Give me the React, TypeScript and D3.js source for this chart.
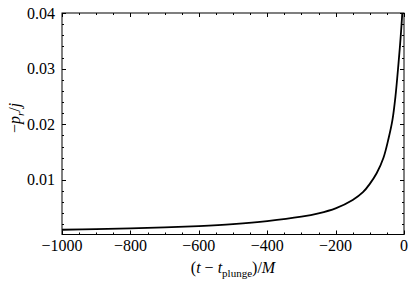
import React, { useEffect, useRef } from "react";
import * as d3 from "d3";

// time relative to plunge, in units of M
const times = [-1000, -900, -800, -700, -600, -500, -400, -300, -250, -200, -150, -120, -100, -80, -60, -45, -34, -25, -16, -10, -5, -2];
// -p_r / j
const values = [0.00105, 0.00116, 0.0013, 0.00148, 0.00172, 0.00207, 0.0026, 0.0034, 0.004, 0.0049, 0.0064, 0.0078, 0.0093, 0.0112, 0.014, 0.0175, 0.0207, 0.025, 0.031, 0.0355, 0.04, 0.044];

const xTicks = [-1000, -800, -600, -400, -200, 0];
const yTicks = [0.01, 0.02, 0.03, 0.04];

const FONT = "Liberation Serif, Times New Roman, DejaVu Serif, serif";

export default function App() {
  const ref = useRef<SVGSVGElement>(null);

  useEffect(() => {
    const width = 416;
    const height = 285;
    const left = 62, right = 404, top = 13, bottom = 234.5;

    const svg = d3.select(ref.current);
    svg.selectAll("*").remove();
    svg.attr("width", width).attr("height", height);

    const x = d3.scaleLinear().domain([-1000, 0]).range([left, right]);
    const y = d3.scaleLinear().domain([0.0002, 0.04]).range([bottom, top]);

    svg.append("clipPath").attr("id", "plotclip")
      .append("rect")
      .attr("x", left).attr("y", top)
      .attr("width", right - left).attr("height", bottom - top);

    const pts = times.map((t, i) => [t, values[i]] as [number, number]);
    const line = d3.line<[number, number]>()
      .x(d => x(d[0]))
      .y(d => y(d[1]))
      .curve(d3.curveCatmullRom.alpha(0.5));

    svg.append("path")
      .attr("d", line(pts) as string)
      .attr("fill", "none")
      .attr("stroke", "black")
      .attr("stroke-width", 1.8)
      .attr("clip-path", "url(#plotclip)");

    // frame
    svg.append("rect")
      .attr("x", left).attr("y", top)
      .attr("width", right - left).attr("height", bottom - top)
      .attr("fill", "none")
      .attr("stroke", "black")
      .attr("stroke-width", 1);

    const g = svg.append("g").attr("stroke", "black").attr("stroke-width", 1);

    // x ticks, bottom and top, pointing inward
    const xMinor = d3.range(-1000, 1, 50);
    xMinor.forEach(v => {
      const major = v % 200 === 0;
      const len = major ? 4 : 2;
      const px = Math.round(x(v)) + 0.5;
      g.append("line").attr("x1", px).attr("x2", px).attr("y1", bottom).attr("y2", bottom - len);
      g.append("line").attr("x1", px).attr("x2", px).attr("y1", top).attr("y2", top + len);
    });

    // y ticks, left and right
    const yMinor = d3.range(2, 41, 2).map(v => v / 1000);
    yMinor.forEach(v => {
      const major = Math.round(v * 1000) % 10 === 0;
      const len = major ? 4 : 2;
      const py = Math.round(y(v)) + 0.5;
      g.append("line").attr("x1", left).attr("x2", left + len).attr("y1", py).attr("y2", py);
      g.append("line").attr("x1", right).attr("x2", right - len).attr("y1", py).attr("y2", py);
    });

    svg.selectAll(".xlab")
      .data(xTicks)
      .enter()
      .append("text")
      .attr("x", d => x(d))
      .attr("y", 251)
      .attr("text-anchor", "middle")
      .attr("font-family", FONT)
      .attr("font-size", 16)
      .text(d => (d < 0 ? "\u2212" + Math.abs(d) : String(d)));

    svg.selectAll(".ylab")
      .data(yTicks)
      .enter()
      .append("text")
      .attr("x", 55)
      .attr("y", d => y(d) + 5.5)
      .attr("text-anchor", "end")
      .attr("font-family", FONT)
      .attr("font-size", 16)
      .text(d => d.toFixed(2));

    // x axis title
    const xt = svg.append("text")
      .attr("x", (left + right) / 2)
      .attr("y", 273)
      .attr("text-anchor", "middle")
      .attr("font-family", FONT)
      .attr("font-size", 16);
    xt.append("tspan").text("(");
    xt.append("tspan").attr("font-style", "italic").text("t");
    xt.append("tspan").text(" \u2212 ");
    xt.append("tspan").attr("font-style", "italic").text("t");
    xt.append("tspan").attr("dy", 4).attr("font-size", 11).text("plunge");
    xt.append("tspan").attr("dy", -4).text(")/");
    xt.append("tspan").attr("font-style", "italic").text("M");

    // y axis title
    const yt = svg.append("text")
      .attr("transform", "translate(20,118) rotate(-90)")
      .attr("text-anchor", "middle")
      .attr("font-family", FONT)
      .attr("font-size", 16);
    yt.append("tspan").text("\u2212");
    yt.append("tspan").attr("font-style", "italic").text("p");
    yt.append("tspan").attr("dy", 4).attr("font-style", "italic").attr("font-size", 11).text("r");
    yt.append("tspan").attr("dy", -4).text("/");
    yt.append("tspan").attr("font-style", "italic").text("j");
  }, []);

  return (
    <svg ref={ref} style={{ position: "absolute", left: 0, top: 0, background: "white" }} />
  );
}
